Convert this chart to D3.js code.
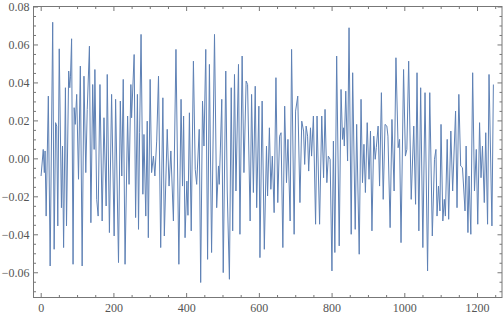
<!DOCTYPE html>
<html>
<head>
<meta charset="utf-8">
<script src="https://cdn.jsdelivr.net/npm/d3@7"></script>
<style>
  body { margin: 0; background: #fff; }
  svg { display: block; }
</style>
</head>
<body>
<div id="chart"></div>
<script>
// Sample index / value pairs (peaks and troughs)
const sampleIndex = [
  1, 7, 10, 12, 15, 21, 26, 33, 37, 41, 44, 47, 51, 57, 60, 63, 68, 71, 77, 80, 82, 85, 89, 92, 95, 99,
  104, 109, 114, 119, 124, 128, 134, 138, 143, 147, 149, 154, 158, 163, 169, 174, 180, 183, 189,
  195, 202, 206, 214, 219, 223, 227, 232, 239, 243, 248, 250, 257, 261, 266, 269, 272, 276, 281, 284,
  289, 293, 296, 301, 305, 310, 314, 319, 324, 330, 336, 340, 348, 353, 358, 365, 372, 380, 386, 390, 393,
  397, 402, 405, 409, 414, 420, 425, 429, 436, 440, 445, 449, 454, 459, 464, 470, 478, 484, 489, 491,
  494, 498, 502, 509, 513, 519, 524, 528, 533, 537, 544, 548, 554, 559, 565, 569, 576, 580, 585, 590, 594, 600, 603,
  609, 615, 621, 624, 629, 633, 637, 642, 647, 652, 657, 661, 666, 671, 676, 680, 686, 690, 697, 701,
  707, 713, 718, 723, 726, 730, 734, 737, 742, 745, 750, 756, 760, 767, 773, 778, 782, 787, 791, 796, 801, 805,
  809, 814, 821, 826, 830, 833, 835, 839, 844, 848, 854, 858, 865, 869, 876, 881, 885, 889, 893, 898,
  903, 907, 911, 916, 920, 923, 928, 932, 937, 942, 947, 952, 955, 961, 966, 972, 977, 983, 987, 991, 998, 1003, 1007, 1012,
  1019, 1026, 1031, 1035, 1040, 1045, 1051, 1057, 1064, 1070, 1077, 1083, 1087, 1090, 1094, 1098, 1101, 1106, 1110, 1113,
  1118, 1122, 1128, 1133, 1141, 1145, 1150, 1155, 1160, 1167, 1170, 1175, 1178, 1183, 1188, 1193, 1198, 1202, 1207, 1211,
  1215, 1220, 1224, 1229, 1233, 1241, 1245
];

const sampleValue = [
  -0.0093, 0.0047, -0.0075, 0.0039, -0.0304, 0.0328, -0.0567, 0.0717, -0.0479, 0.0188, 0.017, -0.0356, 0.0577, -0.026, 0.0065, -0.047, 0.0372, -0.0356, 0.046, 0.0372, 0.0433, 0.063, -0.0558, 0.0267, 0.0179, 0.0337,
  -0.011, 0.0486, -0.0567, 0.0433, -0.0075, 0.0258, 0.0591, -0.0339, 0.0389, 0.0047, 0.0468, -0.0216, -0.0304, 0.0389, -0.033, 0.0214, -0.0251, 0.0442, -0.0391,
  0.0337, -0.0409, 0.0311, -0.0549, 0.0302, -0.0093, 0.0416, -0.0558, 0.0223, -0.0137, 0.0389, 0.0214, 0.0547, -0.0312, 0.0337, -0.0374, 0.0135, 0.0653, -0.0189, 0.0126,
  -0.0304, 0.0196, -0.0418, 0.0416, -0.0075, 0.0012, -0.0093, 0.0091, 0.0433, -0.047, 0.0319, -0.0409, 0.0153, -0.0146, 0.0039, -0.033, 0.0574, -0.0558, 0.0311, -0.0146, 0.0223,
  -0.0418, -0.012, -0.030, 0.024, -0.0382, 0.0512, -0.0058, -0.0137, 0.0153, -0.0654, 0.0302, 0.0065, 0.0574, -0.0532, 0.0495, -0.0496, 0.0653, -0.026, -0.004, -0.0137,
  0.0039, 0.0311, -0.0602, 0.046, -0.0172, -0.0637, 0.0372, -0.0382, 0.0442, -0.0172, 0.0495, -0.04, 0.0539, -0.0075, 0.0407, 0.0389, -0.033, 0.0337, -0.018, 0.038, -0.026, 0.0275, -0.0523,
  0.0302, -0.0479, 0.0065, -0.0198, 0.0161, -0.0163, 0.0012, -0.0286, 0.0425, -0.0233, 0.0117, 0.0135, -0.047, 0.0275, -0.0128, 0.01, -0.033, 0.0574, -0.04, 0.0249,
  0.0328, -0.0233, 0.0196, 0.0144, -0.0032, 0.017, 0.0117, -0.0067, 0.0161, 0.0012, 0.0223, -0.0347, 0.0223, -0.0347, 0.0223, -0.0102, 0.0258, -0.0128, 0.0012, -0.0005, -0.0593, 0.0091,
  -0.0496, 0.0539, -0.0461, 0.0363, 0.01, 0.0161, 0.0065, 0.0354, -0.0014, 0.0688, -0.04, 0.0451, -0.0374, 0.0179, -0.0505, 0.0311, -0.0128, 0.0074, -0.018, 0.0188,
  -0.011, 0.0144, -0.0382, 0.0117, -0.0005, 0.0056, 0.017, -0.0146, 0.0346, -0.0216, 0.0179, 0.017, 0.0117, -0.0365, 0.0205, -0.0172, 0.053, 0.0056, 0.01, -0.0444, 0.0468, 0.0012, 0.0047, 0.0512,
  -0.0216, 0.017, -0.0242, 0.0451, -0.0382, 0.0372, -0.047, 0.0346, -0.0593, 0.0346, -0.0409, -0.0005, 0.0047, -0.0304, -0.0146, -0.0277, 0.0179, -0.033, -0.0216, -0.0304,
  0.01, -0.0321, 0.0144, -0.0172, 0.0249, -0.026, 0.0337, -0.004, -0.0049, -0.0277, 0.0065, -0.0391, -0.0093, -0.04, 0.0451, -0.0172, 0.0047, -0.0347, 0.0188, -0.0102,
  0.0065, -0.0233, 0.0135, -0.0347, 0.0442, -0.0356, 0.0389
];

const xTickValues = [0, 200, 400, 600, 800, 1000, 1200];
const yTickValues = [-0.06, -0.04, -0.02, 0, 0.02, 0.04, 0.06, 0.08];

const width = 504;
const height = 317;
const frame = { left: 33.5, right: 502, top: 6.5, bottom: 297.5 };

const frameColor = "#777";
const labelColor = "#555";
const lineColor = "#5e81b5";

const svg = d3.select("#chart").append("svg")
    .attr("width", width)
    .attr("height", height);

const x = d3.scaleLinear().domain([-19.8, 1268.7]).range([frame.left, frame.right]);
const y = d3.scaleLinear().domain([-0.0733, 0.08]).range([frame.bottom, frame.top]);

// minor tick positions (between the labelled ones)
const xMinor = d3.range(0, 1251, 50).filter(v => v % 200 !== 0);
const yMinor = d3.range(-70, 81, 5).map(v => v / 1000).filter(v => Math.round(v * 1000) % 20 !== 0);

// data line
const points = sampleIndex.map((d, i) => [d, sampleValue[i]]);
svg.append("path")
    .datum(points)
    .attr("fill", "none")
    .attr("stroke", lineColor)
    .attr("stroke-width", 1)
    .attr("stroke-linejoin", "round")
    .attr("d", d3.line().x(d => x(d[0])).y(d => y(d[1])));

/**
 * Inward ticks on one side of the frame
 */
function drawAxis(axisFn, scale, translate, majors, minors, labels, padding) {
    const major = axisFn(scale).tickValues(majors).tickSizeInner(-4.5).tickSizeOuter(0).tickPadding(padding);
    if (labels) {
        major.tickFormat(labels);
    } else {
        major.tickFormat("");
    }
    const g = svg.append("g").attr("transform", translate).call(major);
    g.select(".domain").remove();
    g.selectAll(".tick line").attr("stroke", frameColor);
    g.selectAll(".tick text")
        .attr("fill", labelColor)
        .style("font-family", "'Liberation Serif', 'Times New Roman', serif")
        .style("font-size", "12px");

    const minor = axisFn(scale).tickValues(minors).tickSizeInner(-2.5).tickSizeOuter(0).tickFormat("");
    const gm = svg.append("g").attr("transform", translate).call(minor);
    gm.select(".domain").remove();
    gm.selectAll(".tick line").attr("stroke", frameColor);
}

const xFmt = d => d3.format("d")(d);
const yFmt = d => d3.format(".2f")(d).replace("-", "\u2212");

drawAxis(d3.axisBottom, x, `translate(0,${frame.bottom})`, xTickValues, xMinor, xFmt, 6);
drawAxis(d3.axisTop, x, `translate(0,${frame.top})`, xTickValues, xMinor, null, 6);
drawAxis(d3.axisLeft, y, `translate(${frame.left},0)`, yTickValues, yMinor, yFmt, 4);
drawAxis(d3.axisRight, y, `translate(${frame.right},0)`, yTickValues, yMinor, null, 4);

// frame
svg.append("rect")
    .attr("x", frame.left)
    .attr("y", frame.top)
    .attr("width", frame.right - frame.left)
    .attr("height", frame.bottom - frame.top)
    .attr("fill", "none")
    .attr("stroke", frameColor)
    .attr("stroke-width", 1);
</script>
</body>
</html>
